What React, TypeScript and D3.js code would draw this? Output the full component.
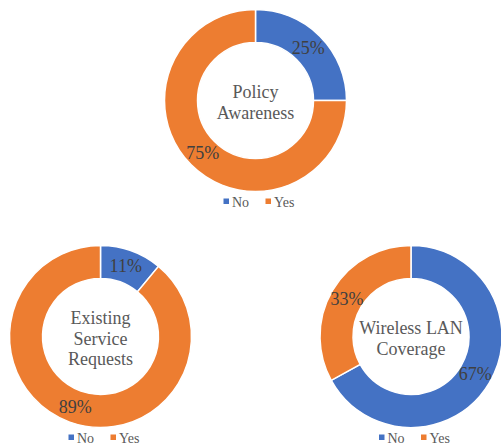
import React from "react";
import * as d3 from "d3";

const categories = ["No", "Yes"];
const chartTitles = [["Policy", "Awareness"], ["Existing", "Service", "Requests"], ["Wireless LAN", "Coverage"]];
const noValues = [25, 11, 67];
const yesValues = [75, 89, 33];
const colors = ["#4472C4", "#ED7D31"];

const W = 501;
const H = 448;
const centers = [
  { cx: 255.5, cy: 100.5 },
  { cx: 100.5, cy: 336.5 },
  { cx: 411, cy: 336.5 },
];
const outerR = 91;
const innerR = 58;
const font = "'Liberation Serif', 'Times New Roman', serif";

function Donut({ idx }: { idx: number }) {
  const { cx, cy } = centers[idx];
  const values = [noValues[idx], yesValues[idx]];
  const pie = d3.pie<number>().sort(null).value((d) => d);
  const arcs = pie(values);
  const arc = d3.arc<d3.PieArcDatum<number>>().innerRadius(innerR).outerRadius(outerR);
  const total = d3.sum(values);
  const lines = chartTitles[idx];
  const L = 20.5;
  const first = -((lines.length - 1) / 2) * L + 8;
  return (
    <g>
      <g transform={`translate(${cx},${cy})`}>
        {arcs.map((a, i) => (
          <path key={i} d={arc(a) || ""} fill={colors[i]} stroke="#fff" strokeWidth={1.5} />
        ))}
        {arcs.map((a, i) => {
          const [x, y] = arc.centroid(a);
          return (
            <text key={"l" + i} x={x} y={y + 6} textAnchor="middle" fontSize={18} fill="#404040" fontFamily={font}>
              {Math.round((a.data / total) * 100)}%
            </text>
          );
        })}
        {lines.map((t, i) => (
          <text key={"t" + i} x={0} y={first + i * L} textAnchor="middle" fontSize={18} fill="#595959" fontFamily={font}>
            {t}
          </text>
        ))}
      </g>
      <g transform={`translate(0,${cy + 101.5})`}>
        {categories.map((c, i) => {
          const x = i === 0 ? cx - 32 : cx + 10;
          return (
            <g key={c} transform={`translate(${x},0)`}>
              <rect x={0} y={-3.5} width={5.5} height={5.5} fill={colors[i]} />
              <text x={8.5} y={5} fontSize={14} fill="#595959" fontFamily={font}>
                {c}
              </text>
            </g>
          );
        })}
      </g>
    </g>
  );
}

export default function App() {
  return (
    <svg width={W} height={H} style={{ position: "absolute", left: 0, top: 0, background: "#fff" }}>
      <rect width={W} height={H} fill="#fff" />
      {chartTitles.map((_, i) => (
        <Donut key={i} idx={i} />
      ))}
    </svg>
  );
}
